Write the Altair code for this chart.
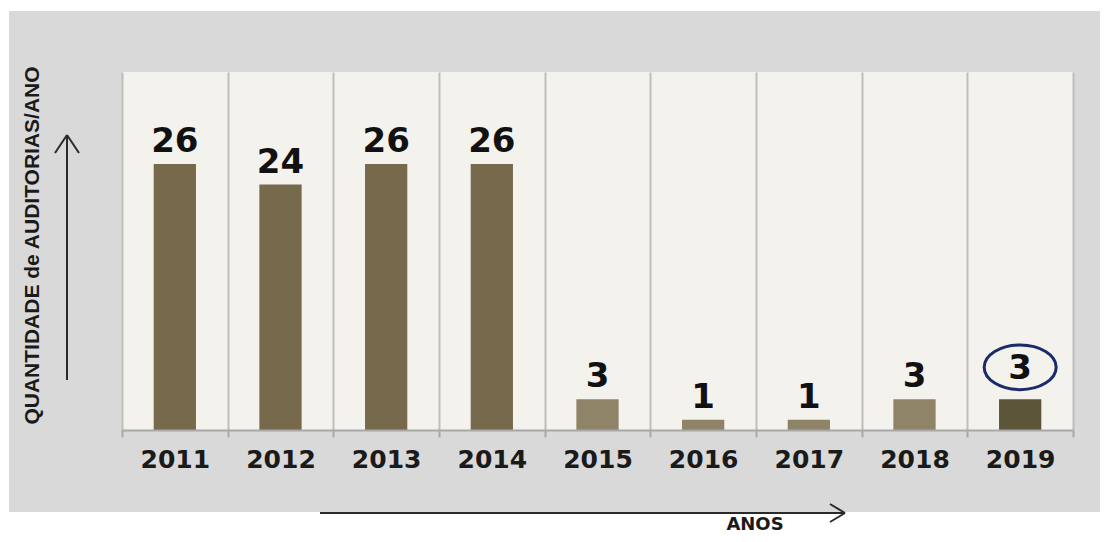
import altair as alt
import pandas as pd

years = ["2011", "2012", "2013", "2014", "2015", "2016", "2017", "2018", "2019"]
values = [26, 24, 26, 26, 3, 1, 1, 3, 3]
groups = ["a", "a", "a", "a", "b", "b", "b", "b", "c"]
group_colors = ["#77694B", "#8F8467", "#5C5539"]
y_title = "QUANTIDADE de AUDITORIAS/ANO"
x_title = "ANOS"

df = pd.DataFrame({"year": years, "value": values, "group": groups})
one = pd.DataFrame({"k": [0]})

W, H = 951, 358

x_enc = alt.X(
    "year:N",
    sort=years,
    scale=alt.Scale(paddingInner=0, paddingOuter=0),
    axis=alt.Axis(
        title=None,
        tickBand="extent",
        grid=True,
        gridColor="#BEBEBE",
        gridWidth=2,
        domainColor="#A8A8A8",
        domainWidth=2,
        tickColor="#A8A8A8",
        tickWidth=2,
        tickSize=7,
        labelFont="DejaVu Sans",
        labelFontWeight="bold",
        labelFontSize=25,
        labelColor="#1A1A1A",
        labelPadding=10,
        labelAngle=0,
        zindex=1,
    ),
)
y_enc = alt.Y(
    "value:Q",
    scale=alt.Scale(domain=[0, 35], nice=False),
    axis=alt.Axis(
        title=y_title,
        labels=False,
        ticks=False,
        domain=False,
        grid=False,
        titleX=-90,
        titleY=173,
        titleAngle=270,
        titleAlign="center",
        titleBaseline="middle",
        titleFont="Liberation Sans",
        titleFontSize=21,
        titleFontWeight="bold",
        titleColor="#1A1A1A",
        zindex=1,
    ),
)

gray_bg = alt.Chart(one).mark_rect(color="#D9D9D9").encode(
    x=alt.value(-113), x2=alt.value(980), y=alt.value(-61), y2=alt.value(440)
)
plot_bg = alt.Chart(one).mark_rect(color="#F3F2EC").encode(
    x=alt.value(0), x2=alt.value(W), y=alt.value(0), y2=alt.value(H)
)

bars = alt.Chart(df).mark_bar(width=alt.RelativeBandSize(0.4)).encode(
    x=x_enc,
    y=y_enc,
    color=alt.Color(
        "group:N",
        scale=alt.Scale(domain=["a", "b", "c"], range=group_colors),
        legend=None,
    ),
)

txt_props = dict(font="DejaVu Sans", fontWeight="bold", fontSize=34, color="#111111",
                 baseline="alphabetic", align="center")
labels = alt.Chart(df).transform_filter(alt.datum.year != "2019").mark_text(
    dy=-12, **txt_props
).encode(x=alt.X("year:N", sort=years), y="value:Q", text="value:Q")
label_last = alt.Chart(df).transform_filter(alt.datum.year == "2019").mark_text(
    dy=-20, **txt_props
).encode(x=alt.X("year:N", sort=years), y="value:Q", text="value:Q")

ellipse_path = "M -1 0 A 1 0.62 0 1 0 1 0 A 1 0.62 0 1 0 -1 0 Z"
ellipse = alt.Chart(df).transform_filter(alt.datum.year == "2019").mark_point(
    shape=ellipse_path, size=5184, filled=False, stroke="#1B2A6B", strokeWidth=3,
    opacity=1, yOffset=-32,
).encode(x=alt.X("year:N", sort=years), y="value:Q")

arrow_color = "#2A2A2A"
def seg(x1, y1, x2, y2):
    return alt.Chart(one).mark_rule(color=arrow_color, strokeWidth=2).encode(
        x=alt.value(x1), y=alt.value(y1), x2=alt.value(x2), y2=alt.value(y2)
    )

up_arrow = [seg(-55, 308, -55, 63), seg(-55, 63, -67, 81), seg(-55, 63, -43, 81)]
right_arrow = [seg(198, 441, 723, 441), seg(723, 441, 708, 432), seg(723, 441, 708, 450)]

anos = alt.Chart(one).mark_text(
    text=x_title, font="DejaVu Sans", fontWeight="bold", fontSize=18,
    color="#1A1A1A", align="center", baseline="alphabetic"
).encode(x=alt.value(633), y=alt.value(458))

chart = alt.layer(
    gray_bg, plot_bg, bars, labels, label_last, ellipse, *up_arrow, *right_arrow, anos
).properties(
    width=W,
    height=H,
    padding={"left": 114, "top": 64, "right": 27, "bottom": 104},
    autosize=alt.AutoSizeParams(type="none"),
).configure(background="white").configure_view(stroke=None)

chart.save("out.html", embed_options={"renderer": "svg", "actions": False})
